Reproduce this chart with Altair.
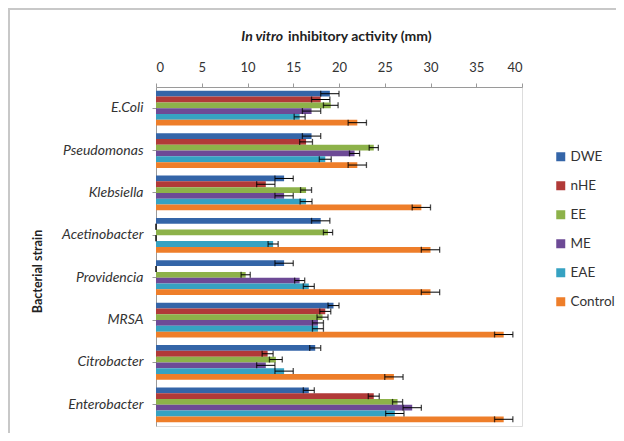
import altair as alt
import pandas as pd

strains = ["E.Coli", "Pseudomonas", "Klebsiella", "Acetinobacter",
           "Providencia", "MRSA", "Citrobacter", "Enterobacter"]
series = ["DWE", "nHE", "EE", "ME", "EAE", "Control"]
colors = ["#3465A8", "#B13A38", "#8DB24A", "#6D4A96", "#36A2C2", "#EE7E2A"]

dwe = [19.0, 17.0, 14.0, 18.0, 14.0, 19.4, 17.4, 16.7]
nhe = [18.0, 16.4, 12.0, 0.0, 0.0, 18.5, 12.2, 23.8]
ee = [19.1, 23.8, 16.4, 18.8, 9.8, 18.2, 13.1, 26.4]
me = [17.0, 21.7, 14.0, 0.0, 15.7, 17.7, 12.0, 28.0]
eae = [15.7, 18.5, 16.4, 12.8, 16.7, 17.7, 14.0, 26.1]
control = [22.0, 22.0, 29.0, 30.0, 30.0, 38.0, 26.0, 38.0]

dwe_err = [1.0, 1.0, 1.0, 1.0, 1.0, 0.6, 0.6, 0.6]
nhe_err = [1.0, 0.7, 1.0, 0.0, 0.0, 0.6, 0.6, 0.6]
ee_err = [0.8, 0.5, 0.6, 0.5, 0.5, 0.6, 0.7, 0.55]
me_err = [1.0, 0.55, 1.0, 0.0, 0.55, 0.6, 1.0, 1.0]
eae_err = [0.6, 0.65, 0.65, 0.55, 0.6, 0.6, 1.0, 1.0]
control_err = [1.0, 1.0, 1.0, 1.0, 1.0, 1.0, 1.0, 1.0]

x_ticks = [0, 5, 10, 15, 20, 25, 30, 35, 40]

rows = []
for s, vals, errs in zip(series,
                         [dwe, nhe, ee, me, eae, control],
                         [dwe_err, nhe_err, ee_err, me_err, eae_err, control_err]):
    for st, v, e in zip(strains, vals, errs):
        rows.append({"strain": st, "extract": s, "value": v,
                     "lo": v - e, "hi": v + e})
df = pd.DataFrame(rows)

FONT = "Lato"
x_scale = alt.Scale(domain=[0, 40], nice=False, zero=True)
x_axis = alt.Axis(orient="top", values=x_ticks, grid=False, title=None,
                  labelFontSize=13, labelColor="#333333", labelFont=FONT,
                  tickSize=4, labelPadding=9, domainColor="#9a9a9a",
                  tickColor="#9a9a9a")
y_enc = alt.Y("strain:N", sort=strains,
              scale=alt.Scale(paddingInner=0.18, paddingOuter=0.09),
              axis=alt.Axis(title="Bacterial strain", titleFont=FONT,
                            titleFontSize=12.5, titleFontWeight="bold",
                            titleColor="#222222", titleX=-119, titleY=184,
                            titleAngle=-90, titleAlign="center",
                            titleBaseline="middle",
                            labelFont=FONT, labelFontSize=14,
                            labelFontStyle="italic", labelColor="#333333",
                            tickSize=4, labelPadding=9,
                            domainColor="#9a9a9a", tickColor="#9a9a9a"))
yoff = alt.YOffset("extract:N", sort=series,
                   scale=alt.Scale(paddingInner=0, paddingOuter=0))

bars = alt.Chart(df).mark_bar().encode(
    x=alt.X("value:Q", scale=x_scale, axis=x_axis),
    y=y_enc,
    yOffset=yoff,
    color=alt.Color("extract:N", sort=series,
                    scale=alt.Scale(domain=series, range=colors),
                    legend=alt.Legend(title=None, orient="none",
                                      legendX=398, legendY=63,
                                      symbolType="square", symbolSize=81,
                                      symbolStrokeWidth=0,
                                      labelFont=FONT, labelFontSize=13.5,
                                      labelColor="#333333", labelOffset=3,
                                      rowPadding=14, padding=0)),
)

err_line = alt.Chart(df).mark_rule(color="black", strokeWidth=1).encode(
    x=alt.X("lo:Q", scale=x_scale, axis=x_axis),
    x2="hi:Q",
    y=y_enc,
    yOffset=yoff,
)
cap_lo = alt.Chart(df).mark_tick(color="black", thickness=1.3, size=6).encode(
    x=alt.X("lo:Q", scale=x_scale, axis=x_axis), y=y_enc, yOffset=yoff)
cap_hi = alt.Chart(df).mark_tick(color="black", thickness=1.3, size=6).encode(
    x=alt.X("hi:Q", scale=x_scale, axis=x_axis), y=y_enc, yOffset=yoff)

one = pd.DataFrame({"a": [0]})
title_a = alt.Chart(one).mark_text(
    text="In vitro", font=FONT, fontSize=14, fontWeight="bold",
    fontStyle="italic", align="right", baseline="middle", color="#222222"
).encode(x=alt.value(127), y=alt.value(-50))
title_b = alt.Chart(one).mark_text(
    text="inhibitory activity (mm)", font=FONT, fontSize=14,
    fontWeight="bold", align="left", baseline="middle", color="#222222"
).encode(x=alt.value(132), y=alt.value(-50))

border = alt.Chart(one).mark_rect(
    fillOpacity=0, stroke="#c8c8c8", strokeWidth=2
).encode(x=alt.value(-147), x2=alt.value(800),
         y=alt.value(-78), y2=alt.value(700))

chart = alt.layer(border, bars, err_line, cap_lo, cap_hi, title_a, title_b).properties(
    width=366, height=339,
    autosize=alt.AutoSizeParams(type="none"),
    padding={"left": 148, "top": 79, "right": 94, "bottom": 7},
).configure_view(stroke=None).configure(background="white")

chart.save("out.html", embed_options={"renderer": "svg", "actions": False})
